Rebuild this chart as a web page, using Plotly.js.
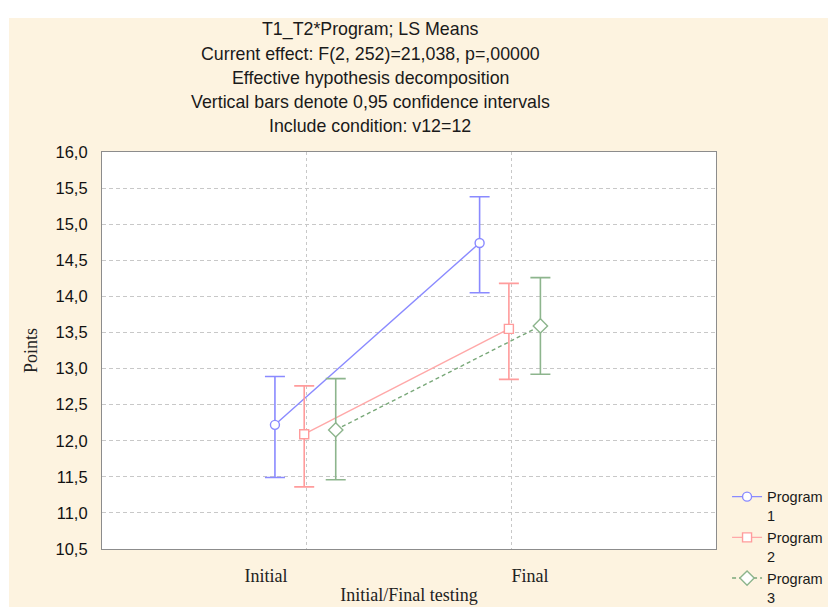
<!DOCTYPE html>
<html>
<head>
<meta charset="utf-8">
<script src="https://cdn.plot.ly/plotly-3.0.1.min.js"></script>
<style>
  html, body { margin: 0; padding: 0; background: #ffffff; }
  #chart { position: absolute; left: 9px; top: 18px; width: 819px; height: 589px; }
</style>
</head>
<body>
<div id="chart"></div>
<script>
// Least-squares means of test points, initial vs final testing, per program
const phases = ['Initial', 'Final'];
const programs = ['Program<br>1', 'Program<br>2', 'Program<br>3'];

const meanP1 = [12.22, 14.74];
const meanP2 = [12.09, 13.55];
const meanP3 = [12.15, 13.59];

// 0,95 confidence limits
const upperP1 = [12.89, 15.38];
const upperP2 = [12.76, 14.18];
const upperP3 = [12.86, 14.26];
const lowerP1 = [11.49, 14.05];
const lowerP2 = [11.36, 12.85];
const lowerP3 = [11.46, 12.92];

const yTickVals = [10.5, 11.0, 11.5, 12.0, 12.5, 13.0, 13.5, 14.0, 14.5, 15.0, 15.5, 16.0];
const yTickText = ['10,5', '11,0', '11,5', '12,0', '12,5', '13,0', '13,5', '14,0', '14,5', '15,0', '15,5', '16,0'];

const titleLines = [
  'T1_T2*Program; LS Means',
  'Current effect: F(2, 252)=21,038, p=,00000',
  'Effective hypothesis decomposition',
  'Vertical bars denote 0,95 confidence intervals',
  'Include condition: v12=12'
];

// horizontal dodge of each program around its category position
const dodge = [-0.155, -0.012, 0.142];
const styles = [
  { color: '#8a8aff', line: '#8a8aff', dash: 'solid', symbol: 'circle', size: 9 },
  { color: '#ff9c9c', line: '#ffa8a8', dash: 'solid', symbol: 'square', size: 9 },
  { color: '#8db58d', line: '#79a879', dash: '4px,3px', symbol: 'diamond', size: 11 }
];

const means = [meanP1, meanP2, meanP3];
const uppers = [upperP1, upperP2, upperP3];
const lowers = [lowerP1, lowerP2, lowerP3];

const traces = programs.map((name, k) => {
  const s = styles[k];
  return {
    type: 'scatter',
    mode: 'lines+markers',
    name: name,
    x: phases.map((_, i) => i + 1 + dodge[k]),
    y: means[k],
    line: { color: s.line, width: 1.4, dash: s.dash },
    marker: { symbol: s.symbol, size: s.size, color: '#ffffff', line: { color: s.color, width: 1.4 } },
    error_y: {
      type: 'data',
      symmetric: false,
      array: means[k].map((m, i) => uppers[k][i] - m),
      arrayminus: means[k].map((m, i) => m - lowers[k][i]),
      color: s.color,
      thickness: 1.6,
      width: 10
    },
    hoverinfo: 'x+y'
  };
});

// plot-area geometry (px inside the chart div)
const M = { l: 93, r: 112, t: 134, b: 58 };
const H = 589 - M.t - M.b;
const titleY = [12, 36, 60, 84, 108].map(py => 1 + (M.t - py) / H);

const annotations = titleLines.map((txt, i) => ({
  text: txt,
  xref: 'paper', yref: 'paper',
  x: 0.4365, y: titleY[i],
  xanchor: 'center', yanchor: 'middle',
  showarrow: false,
  font: { family: 'Liberation Sans, Arial, sans-serif', size: 17.8, color: '#1a1a1a' }
}));

const layout = {
  width: 819,
  height: 589,
  margin: { l: M.l, r: M.r, t: M.t, b: M.b, autoexpand: false },
  paper_bgcolor: '#fdf3e0',
  plot_bgcolor: '#ffffff',
  showlegend: true,
  legend: {
    x: 1.018, xanchor: 'left',
    y: 0.172, yanchor: 'top',
    valign: 'top',
    bgcolor: 'rgba(0,0,0,0)',
    font: { family: 'Liberation Sans, Arial, sans-serif', size: 14.5, color: '#1a1a1a' }
  },
  xaxis: {
    range: [0, 3],
    tickvals: [0.801, 2.091],
    ticktext: phases,
    ticks: '',
    ticklabelstandoff: 10,
    showgrid: false,
    zeroline: false,
    showline: true, mirror: true, linecolor: '#8c8c8c', linewidth: 1.2,
    tickfont: { family: 'Liberation Serif, Times New Roman, serif', size: 18, color: '#222222' },
    title: { text: 'Initial/Final testing', standoff: 3,
             font: { family: 'Liberation Serif, Times New Roman, serif', size: 18, color: '#222222' } }
  },
  xaxis2: {
    overlaying: 'x',
    range: [0, 3],
    tickvals: [1, 2],
    showticklabels: false,
    ticks: '',
    showgrid: true,
    gridcolor: '#c8c8c8',
    griddash: 'dot',
    gridwidth: 1,
    zeroline: false,
    showline: false
  },
  yaxis: {
    range: [10.5, 16],
    tickvals: yTickVals,
    ticktext: yTickText,
    ticks: '',
    ticklabelstandoff: 10,
    showgrid: true,
    gridcolor: '#c8c8c8',
    griddash: '4px,3px',
    gridwidth: 1,
    zeroline: false,
    showline: true, mirror: true, linecolor: '#8c8c8c', linewidth: 1.2,
    tickfont: { family: 'Liberation Sans, Arial, sans-serif', size: 16.5, color: '#111111' },
    title: { text: 'Points', standoff: 13,
             font: { family: 'Liberation Serif, Times New Roman, serif', size: 18, color: '#222222' } }
  },
  annotations: annotations
};

// an empty trace on the overlay axis so its grid is drawn
traces.push({ type: 'scatter', x: [], y: [], xaxis: 'x2', showlegend: false, hoverinfo: 'skip' });

Plotly.newPlot('chart', traces, layout, { displayModeBar: false, responsive: false });
</script>
</body>
</html>
